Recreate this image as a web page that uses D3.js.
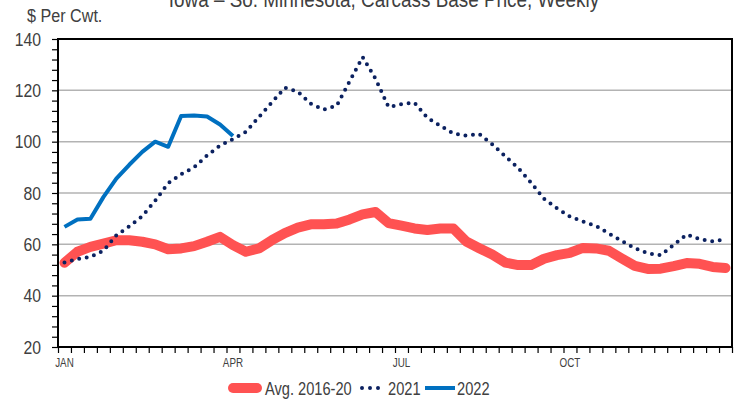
<!DOCTYPE html>
<html>
<head>
<meta charset="utf-8">
<script src="https://cdn.jsdelivr.net/npm/d3@7/dist/d3.min.js"></script>
<style>
  body { margin: 0; background: #fff; }
  text { font-family: "Liberation Sans", Arial, sans-serif; }
</style>
</head>
<body>
<svg id="chart" width="736" height="401"></svg>
<script>
// weekly categories (week of year)
const weeks = d3.range(1, 53);
const monthLabels = ['JAN', 'APR', 'JUL', 'OCT'];
const monthWeeks = [1, 14, 27, 40];
const yTicks = [20, 40, 60, 80, 100, 120, 140];
const gridTicks = [40, 60, 80, 100, 120];

// Avg. 2016-20
const avgValues = [52.8, 57.1, 59.0, 60.3, 61.6, 61.6, 61.0, 60.0, 58.1, 58.4, 59.3, 61.0, 62.9,
    59.7, 57.1, 58.4, 61.6, 64.4, 66.5, 67.8, 67.8, 68.1, 69.7, 71.7, 72.6, 68.3,
    67.3, 66.2, 65.6, 66.2, 66.2, 61.1, 58.5, 56.0, 52.9, 51.9, 51.9, 54.4, 55.8,
    56.7, 58.6, 58.4, 57.5, 54.5, 51.6, 50.4, 50.5, 51.5, 52.7, 52.4, 51.2, 50.8];
// 2021
const values2021 = [52.9, 54.3, 55.1, 57.5, 63.5, 67.0, 71.0, 77.0, 83.8, 87.3, 90.0, 94.6, 98.5,
    101.0, 103.8, 109.6, 115.3, 121.0, 119.5, 114.8, 112.5, 114.0, 123.5, 133.0, 124.5, 113.5,
    114.6, 115.2, 109.3, 106.2, 103.2, 102.3, 103.0, 99.0, 94.3, 89.8, 84.0, 77.7, 74.0,
    70.8, 68.9, 67.2, 64.2, 61.3, 58.5, 56.5, 55.8, 59.8, 63.8, 62.0, 61.2, 62.0];
// 2022 (year to date)
const values2022 = [66.8, 69.7, 70.0, 78.4, 85.6, 91.0, 96.0, 100.0, 98.0, 110.0, 110.2, 109.8, 106.7, 102.2];

const seriesNames = ['Avg. 2016-20', '2021', '2022'];
const seriesColors = ['#FF5252', '#0B2160', '#0070C0'];

const svg = d3.select('#chart');
const plotLeft = 58, plotRight = 732, plotTop = 39, plotBottom = 347;

const x = d3.scaleBand().domain(weeks).range([plotLeft, plotRight]);
const xEdge = d3.scaleLinear().domain([0, weeks.length]).range([plotLeft, plotRight]);
const y = d3.scaleLinear().domain([20, 140]).range([plotBottom, plotTop]);
const cx = w => x(w) + x.bandwidth() / 2;

// narrow-looking text: horizontal squeeze, since no condensed font is installed
function narrowText(parent, tx, ty, str, size, sx, anchor) {
    return parent.append('text')
        .attr('transform', 'translate(' + [tx, ty] + ') scale(' + sx + ',1)')
        .attr('text-anchor', anchor || 'start')
        .attr('font-size', size)
        .attr('fill', '#404040')
        .text(str);
}

// title (cut off at top in the original)
narrowText(svg, 384, 7, 'Iowa – So. Minnesota, Carcass Base Price, Weekly', 22, 0.86, 'middle');
narrowText(svg, 27, 22, '$ Per Cwt.', 19, 0.85);

// gridlines
svg.append('g').selectAll('line')
    .data(gridTicks)
    .enter().append('line')
    .attr('x1', plotLeft).attr('x2', plotRight)
    .attr('y1', d => y(d)).attr('y2', d => y(d))
    .attr('stroke', '#b3b3b3')
    .attr('stroke-width', 1.5);

// y axis minor ticks
svg.append('g')
    .attr('transform', 'translate(' + plotLeft + ',0)')
    .call(d3.axisLeft(y).tickValues(d3.range(20, 141, 4)).tickSize(6).tickFormat(''))
    .call(g => g.select('.domain').remove())
    .call(g => g.selectAll('line').attr('stroke', '#000').attr('stroke-width', 1.2));

// y labels
yTicks.forEach(v => narrowText(svg, 41, y(v) + 6.5, v, 19, 0.83, 'end'));

// x axis weekly ticks
svg.append('g')
    .attr('transform', 'translate(0,' + plotBottom + ')')
    .call(d3.axisBottom(xEdge).tickValues(d3.range(0, weeks.length + 1)).tickSize(6).tickFormat(''))
    .call(g => g.select('.domain').remove())
    .call(g => g.selectAll('line').attr('stroke', '#000').attr('stroke-width', 1.2));

monthLabels.forEach((m, i) => narrowText(svg, cx(monthWeeks[i]), 367, m, 12, 0.82, 'middle'));

// lines
const line = d3.line()
    .x((d, i) => cx(weeks[i]))
    .y(d => y(d));

svg.append('path')
    .datum(avgValues)
    .attr('d', line)
    .attr('fill', 'none')
    .attr('stroke', seriesColors[0])
    .attr('stroke-width', 10)
    .attr('stroke-linecap', 'round')
    .attr('stroke-linejoin', 'round');

svg.append('path')
    .datum(values2021)
    .attr('d', line)
    .attr('fill', 'none')
    .attr('stroke', seriesColors[1])
    .attr('stroke-width', 4)
    .attr('stroke-linecap', 'round')
    .attr('stroke-dasharray', '0,7.6');

svg.append('path')
    .datum(values2022)
    .attr('d', line)
    .attr('fill', 'none')
    .attr('stroke', seriesColors[2])
    .attr('stroke-width', 4)
    .attr('stroke-linejoin', 'round');

// plot border
svg.append('rect')
    .attr('x', plotLeft).attr('y', plotTop)
    .attr('width', plotRight - plotLeft).attr('height', plotBottom - plotTop)
    .attr('fill', 'none')
    .attr('stroke', '#000')
    .attr('stroke-width', 2);

// legend
const legendY = 388;
const legendItems = [
    { sx: 233, ex: 257, tx: 265 },
    { sx: 362, ex: 386, tx: 388 },
    { sx: 425, ex: 455, tx: 457 }
];
const legend = svg.append('g');
legendItems.forEach((it, i) => {
    const l = legend.append('line')
        .attr('x1', it.sx).attr('x2', it.ex)
        .attr('y1', legendY).attr('y2', legendY)
        .attr('stroke', seriesColors[i]);
    if (i === 0) l.attr('stroke-width', 10).attr('stroke-linecap', 'round');
    if (i === 1) l.attr('stroke-width', 4).attr('stroke-linecap', 'round').attr('stroke-dasharray', '0,8');
    if (i === 2) l.attr('stroke-width', 4);
    narrowText(legend, it.tx, legendY + 7, seriesNames[i], 19, 0.77);
});
</script>
</body>
</html>
